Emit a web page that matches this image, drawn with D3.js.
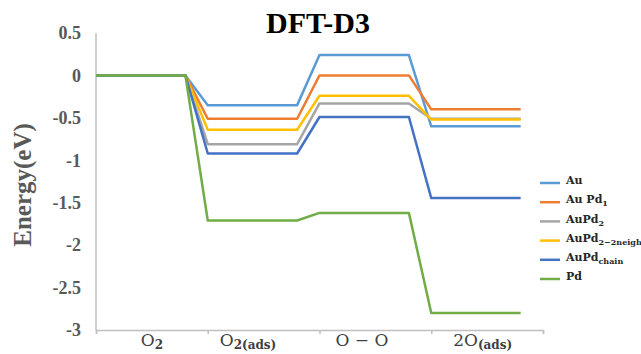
<!DOCTYPE html>
<html>
<head>
<meta charset="utf-8">
<script src="https://cdn.jsdelivr.net/npm/d3@7"></script>
<style>
  body { margin: 0; background: #fff; }
  svg { display: block; }
  .serif { font-family: 'Liberation Serif', 'Times New Roman', Times, serif; }
</style>
</head>
<body>
<div id="chart-area"></div>
<script>
// data
const steps = ['O2', 'O2(ads)', 'O-O', '2O(ads)'];
const au = [0, -0.35, 0.24, -0.60];
const auPd1 = [0, -0.51, 0.00, -0.40];
const auPd2 = [0, -0.81, -0.33, -0.51];
const auPd2neigh = [0, -0.64, -0.24, -0.52];
const auPdChain = [0, -0.92, -0.49, -1.445];
const pd = [0, -1.71, -1.62, -2.80];
const yTicks = [0.5, 0, -0.5, -1, -1.5, -2, -2.5, -3];
const labelPos = [0.5, 1.36, 2.38, 3.46];

const series = [
  { name: 'Au', sub: '', values: au, color: '#5B9BD5' },
  { name: 'Au Pd', sub: '1', values: auPd1, color: '#ED7D31' },
  { name: 'AuPd', sub: '2', values: auPd2, color: '#A5A5A5' },
  { name: 'AuPd', sub: '2\u22122neigh', values: auPd2neigh, color: '#FFC000' },
  { name: 'AuPd', sub: 'chain', values: auPdChain, color: '#4472C4' },
  { name: 'Pd', sub: '', values: pd, color: '#70AD47' }
];

const W = 641, H = 354;
const svg = d3.select('#chart-area').append('svg')
  .attr('width', W).attr('height', H);

// plot frame
const x = d3.scaleLinear().domain([0, steps.length]).range([96, 543]);
const y = d3.scaleLinear().domain([-3, 0.5]).range([330, 33]);

// title
svg.append('text')
  .attr('class', 'serif')
  .attr('x', 318).attr('y', 33)
  .attr('text-anchor', 'middle')
  .attr('font-weight', 'bold')
  .attr('font-size', '30px')
  .attr('fill', '#000')
  .text('DFT-D3');

// y axis line + labels
svg.append('line')
  .attr('x1', x(0)).attr('x2', x(0))
  .attr('y1', y(0.5)).attr('y2', y(-3))
  .attr('stroke', '#BFBFBF').attr('stroke-width', 1.5);

svg.selectAll('.ytick').data(yTicks).enter()
  .append('text')
  .attr('class', 'ytick serif')
  .attr('x', 81)
  .attr('y', d => y(d))
  .attr('dy', '0.35em')
  .attr('text-anchor', 'end')
  .attr('font-weight', 'bold')
  .attr('font-size', '18px')
  .attr('fill', '#595959')
  .text(d => d);

svg.append('text')
  .attr('class', 'serif')
  .attr('transform', 'translate(31,185) rotate(-90)')
  .attr('text-anchor', 'middle')
  .attr('font-weight', 'bold')
  .attr('font-size', '25px')
  .attr('fill', '#595959')
  .text('Energy(eV)');

// x axis
const xAxis = d3.axisBottom(x)
  .tickValues(d3.range(0, steps.length + 1))
  .tickSize(4)
  .tickFormat('');
const gx = svg.append('g')
  .attr('transform', 'translate(0,' + y(-3) + ')')
  .call(xAxis);
gx.select('.domain').attr('stroke', '#BFBFBF').attr('stroke-width', 1.5);
gx.selectAll('.tick line').attr('stroke', '#BFBFBF').attr('stroke-width', 1.5);

// category labels with subscripts
const catLabels = [
  { main: 'O', sub: '2' },
  { main: 'O', sub: '2(ads)' },
  { main: 'O \u2212 O', sub: '' },
  { main: '2O', sub: '(ads)' }
];
catLabels.forEach((c, i) => {
  const t = svg.append('text')
    .attr('x', x(labelPos[i])).attr('y', 346)
    .attr('text-anchor', 'middle')
    .attr('font-family', 'DejaVu Serif')
    .attr('font-size', '17px')
    .attr('fill', '#404040');
  t.append('tspan').text(c.main);
  if (c.sub) {
    t.append('tspan')
      .attr('dy', 3)
      .attr('font-size', '12px')
      .attr('font-weight', 'bold')
      .text(c.sub);
  }
});

// energy lines: each step is a flat level over 80% of its slot
const line = d3.line().x(d => x(d[0])).y(d => y(d[1]));
series.forEach(s => {
  const pts = [];
  s.values.forEach((v, i) => {
    pts.push([i, v]);
    pts.push([i + 0.8, v]);
  });
  svg.append('path')
    .datum(pts)
    .attr('d', line)
    .attr('fill', 'none')
    .attr('stroke', s.color)
    .attr('stroke-width', 2.5)
    .attr('stroke-linejoin', 'round');
});

// legend
const legend = svg.append('g').attr('transform', 'translate(540,183)');
series.forEach((s, i) => {
  const g = legend.append('g').attr('transform', 'translate(0,' + i * 19.2 + ')');
  g.append('line')
    .attr('x1', 0).attr('x2', 20)
    .attr('stroke', s.color).attr('stroke-width', 2.5);
  const t = g.append('text')
    .attr('x', 26).attr('y', 0).attr('dy', '0.1em')
    .attr('font-family', 'DejaVu Serif')
    .attr('font-weight', 'bold')
    .attr('font-size', '11px')
    .attr('fill', '#262626');
  t.append('tspan').text(s.name);
  if (s.sub) {
    t.append('tspan')
      .attr('dy', 3)
      .attr('font-size', '8px')
      .text(s.sub);
  }
});
</script>
</body>
</html>
